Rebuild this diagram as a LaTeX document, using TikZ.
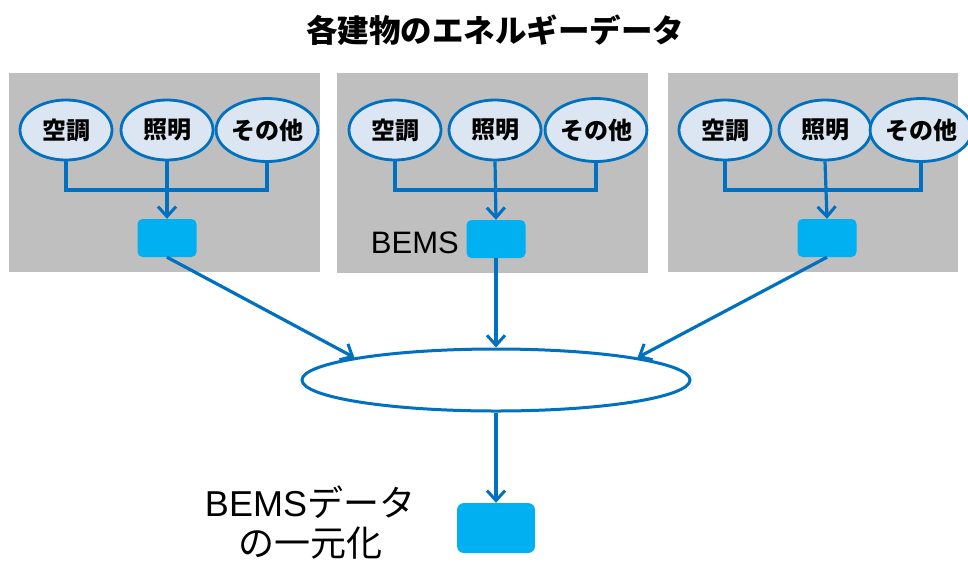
\documentclass[tikz,border=0pt]{standalone}
\usepackage{fontspec}
\setmainfont{Noto Sans CJK JP}
\newfontfamily\latin{Liberation Sans}
\usetikzlibrary{arrows.meta,shapes.geometric}
\definecolor{panelgrey}{HTML}{BFBFBF}
\definecolor{lineblue}{HTML}{0070C0}
\definecolor{ellfill}{HTML}{DCE6F2}
\definecolor{boxblue}{HTML}{00B0F0}
\tikzset{
  panel/.style={fill=panelgrey, draw=none},
  cat/.style={ellipse, draw=lineblue, line width=2.8pt, fill=ellfill, minimum width=92pt, minimum height=60pt, inner sep=0pt, font=\fontsize{24}{26}\selectfont\bfseries},
  bemsbox/.style={rectangle, rounded corners=5pt, fill=boxblue, draw=none, minimum width=59pt, minimum height=38pt, inner sep=0pt},
  conn/.style={draw=lineblue, line width=3.2pt},
  arr/.style={conn, -{Straight Barb[length=10pt, width=18pt, line width=3pt]}},
}
\begin{document}
\begin{tikzpicture}[x=1pt,y=-1pt]
\useasboundingbox (0,0) rectangle (968,563);
\node[font=\fontsize{31.5}{34}\selectfont\bfseries] (title) at (495,30) {各建物のエネルギーデータ};
% panels
\fill[panel] (9,73) rectangle (320,272);
\fill[panel] (337,73) rectangle (648,273);
\fill[panel] (668,73) rectangle (958,272);
% panel 1
\node[cat] (a1) at (66,130) {空調};
\node[cat] (a2) at (167,130) {照明};
\node[cat, minimum width=91pt, minimum height=63pt] (a3) at (267,130) {その他};
\node[bemsbox] (b1) at (167,238) {};
\coordinate (j1) at (167,190);
\draw[conn] (a1.south) |- (j1) -| (a3.south);
\draw[arr] (a2.south) -- (b1.north);
% panel 2
\node[cat] (c1) at (395,130) {空調};
\node[cat] (c2) at (495,130) {照明};
\node[cat, minimum width=93pt, minimum height=63pt] (c3) at (596,130) {その他};
\node[bemsbox] (b2) at (496,239) {};
\node[font=\latin\fontsize{31}{33}\selectfont, anchor=east, inner sep=0pt] (bl) at (459,243) {BEMS};
\coordinate (j2) at (495,190);
\draw[conn] (c1.south) |- (j2) -| (c3.south);
\draw[arr] (c2.south) -- (b2.north);
% panel 3
\node[cat] (d1) at (725,130) {空調};
\node[cat] (d2) at (825,130) {照明};
\node[cat, minimum width=91pt, minimum height=63pt] (d3) at (921,130) {その他};
\node[bemsbox] (b3) at (827,238) {};
\coordinate (j3) at (825,190);
\draw[conn] (d1.south) |- (j3) -| (d3.south);
\draw[arr] (d2.south) -- (b3.north);
% big ellipse
\node[ellipse, draw=lineblue, line width=3pt, fill=white, minimum width=388pt, minimum height=62pt, inner sep=0pt] (big) at (496,380) {};
\draw[arr] (b1.south) -- (big.171);
\draw[arr] (b2.south) -- (big.north);
\draw[arr] (b3.south) -- (big.9);
% unified box
\node[bemsbox, minimum width=78pt, minimum height=50pt, rounded corners=7pt] (bu) at (496,528) {};
\draw[arr] (big.south) -- (bu.north);
\node[font=\fontsize{36}{40}\selectfont, align=center, anchor=north] (lab) at (310,482) {{\latin BEMS}データ\\の一元化};
\end{tikzpicture}
\end{document}
